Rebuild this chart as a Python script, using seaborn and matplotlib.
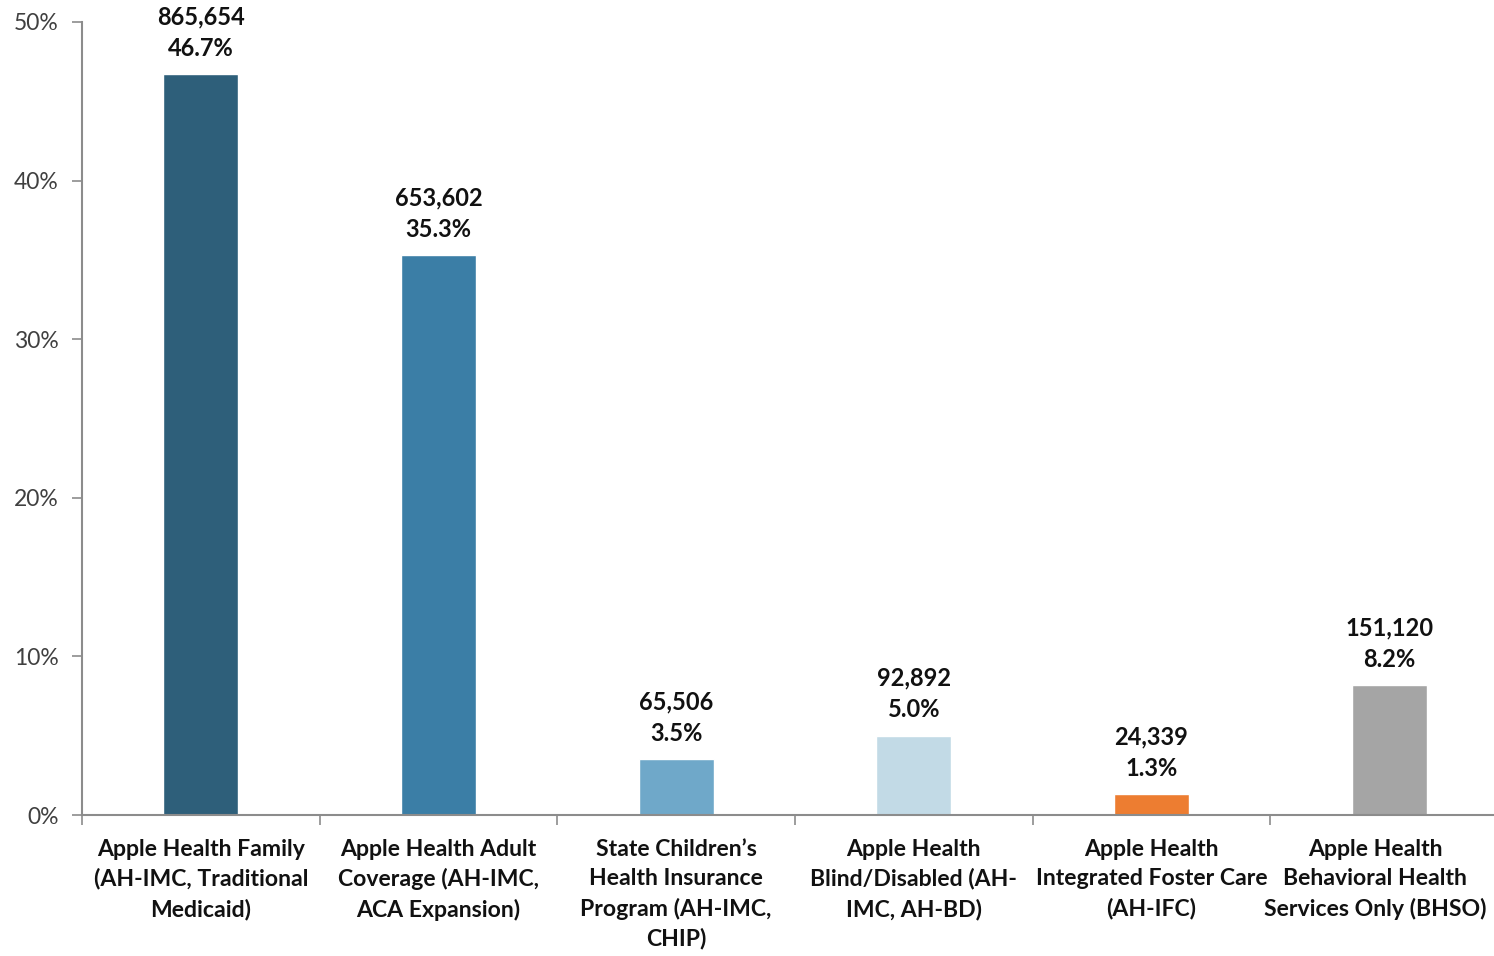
import matplotlib
matplotlib.use("Agg")
import matplotlib.pyplot as plt
import matplotlib.transforms as mtransforms
import seaborn as sns
import pandas as pd
from matplotlib.ticker import FixedLocator

categories = [
    "Apple Health Family\n(AH-IMC, Traditional\nMedicaid)",
    "Apple Health Adult\nCoverage (AH-IMC,\nACA Expansion)",
    "State Children\u2019s\nHealth Insurance\nProgram (AH-IMC,\nCHIP)",
    "Apple Health\nBlind/Disabled (AH-\nIMC, AH-BD)",
    "Apple Health\nIntegrated Foster Care\n(AH-IFC)",
    "Apple Health\nBehavioral Health\nServices Only (BHSO)",
]
counts = [865654, 653602, 65506, 92892, 24339, 151120]
percents = [46.7, 35.3, 3.5, 5.0, 1.3, 8.2]
colors = ["#2E5F7A", "#3B7EA6", "#6FA8C9", "#C2DAE6", "#ED7D31", "#A5A5A5"]
yticks = [0, 10, 20, 30, 40, 50]

sns.set_theme(style="white")
plt.rcParams['font.family'] = ['Lato', 'DejaVu Sans']

df = pd.DataFrame({"cat": categories, "pct": percents})

fig = plt.figure(figsize=(14.94, 9.56), dpi=100)
ax = fig.add_axes([82/1494, 141/956, 1426/1494, 793/956])
sns.barplot(data=df, x="cat", y="pct", hue="cat", palette=colors, legend=False,
            width=0.315, ax=ax, saturation=1)

ax.set_xlim(-0.5, 5.5)
ax.set_ylim(0, 50)
ax.set_yticks(yticks)
ax.set_yticklabels([f"{t}%" for t in yticks], fontsize=16.5, color="#404040")
ax.set_xlabel("")
ax.set_ylabel("")
ax.tick_params(axis="x", length=0, pad=17)
xlabels = ax.get_xticklabels()
for lbl in xlabels:
    lbl.set_fontsize(16.6)
    lbl.set_fontweight("bold")
    lbl.set_color("#111111")
    lbl.set_linespacing(1.48)
# nudge the last label slightly left so it stays inside the figure
shift = mtransforms.ScaledTranslation(-14 / 100, 0, fig.dpi_scale_trans)
xlabels[-1].set_transform(xlabels[-1].get_transform() + shift)
ax.xaxis.set_minor_locator(FixedLocator([i + 0.5 for i in range(-1, 6)]))
ax.tick_params(axis="x", which="minor", length=7, width=1.2, color="#8c8c8c", direction="out", bottom=True)
ax.tick_params(axis="y", length=7, width=1.2, color="#8c8c8c", direction="out", left=True, pad=10)

for s in ["top", "right"]:
    ax.spines[s].set_visible(False)
for s in ["left", "bottom"]:
    ax.spines[s].set_color("#8c8c8c")
    ax.spines[s].set_linewidth(1.5)

for i, (c, p) in enumerate(zip(counts, percents)):
    ax.text(i, p + 0.9, f"{c:,}\n{p:.1f}%", ha="center", va="bottom",
            fontsize=17, fontweight="bold", color="#111111", linespacing=1.45)

fig.savefig("out.png", dpi=100)
